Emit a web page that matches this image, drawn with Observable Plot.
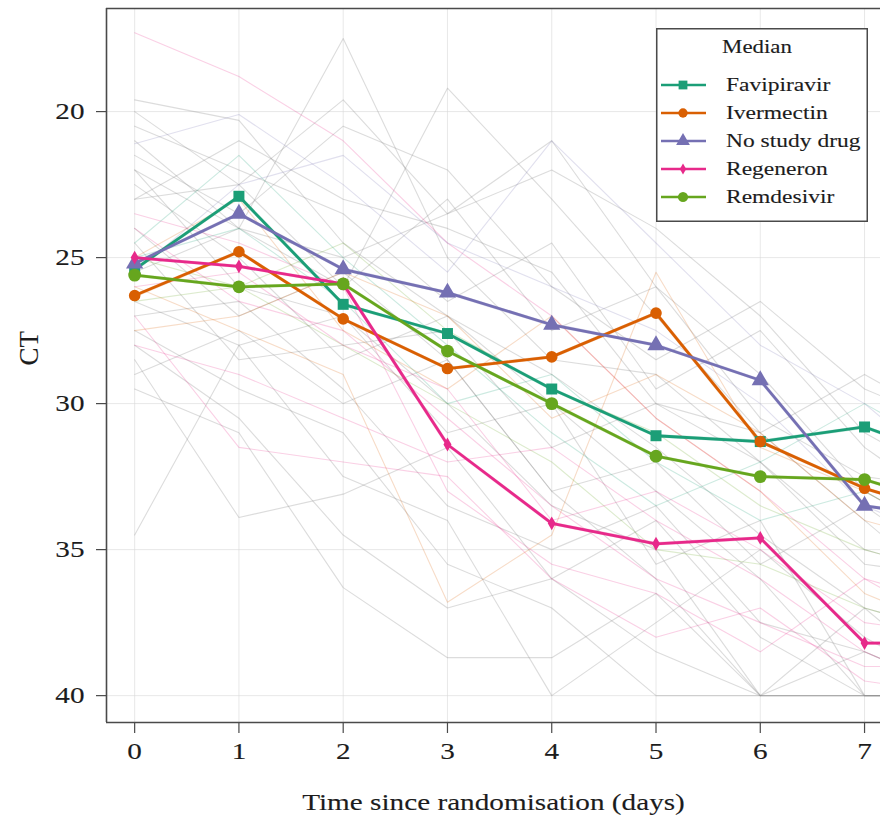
<!DOCTYPE html>
<html><head><meta charset="utf-8">
<script src="https://cdn.jsdelivr.net/npm/d3@7"></script>
<script src="https://cdn.jsdelivr.net/npm/@observablehq/plot@0.6"></script>
<style>
body{margin:0;background:#fff;overflow:hidden}
#wrap{position:relative;width:880px;height:818px}
#legend{position:absolute;left:656px;top:28px}
svg text{stroke:currentColor;stroke-width:0.12px}
</style></head><body><div id="wrap"></div>
<script>
// ---- data ----
const days = [0, 1, 2, 3, 4, 5, 6, 7, 8];
const xTicks = [0, 1, 2, 3, 4, 5, 6, 7];
const yTicks = [20, 25, 30, 35, 40];
const treatments = ["Favipiravir", "Ivermectin", "No study drug", "Regeneron", "Remdesivir"];
const colors = ["#1b9e77", "#d95f02", "#7570b3", "#e7298a", "#66a61e"];
const symbols = ["square", "circle", "triangle", "diamond", "circle"];
const symbolR = [6.2, 5.8, 6.4, 4.2, 6.4];

// medians per day (0..8)
const favipiravir = [25.4, 22.9, 26.6, 27.6, 29.5, 31.1, 31.3, 30.8, 32.1];
const ivermectin  = [26.3, 24.8, 27.1, 28.8, 28.4, 26.9, 31.3, 32.9, 34.0];
const noStudyDrug = [25.2, 23.5, 25.4, 26.2, 27.3, 28.0, 29.2, 33.5, 34.0];
const regeneron   = [25.0, 25.3, 25.9, 31.4, 34.1, 34.8, 34.6, 38.2, 38.2];
const remdesivir  = [25.6, 26.0, 25.9, 28.2, 30.0, 31.8, 32.5, 32.6, 33.7];
const medians = [favipiravir, ivermectin, noStudyDrug, regeneron, remdesivir];

// individual patient trajectories (days 0..8), group = arm or "grey"
const patientGroups = [
  "Regeneron","grey","grey","grey","grey","No study drug","Regeneron","Regeneron","grey","grey",
  "grey","Ivermectin","Remdesivir","Favipiravir","grey","grey","Regeneron","grey","grey","Ivermectin",
  "grey","Regeneron","grey","Remdesivir","grey","grey","Favipiravir","grey","Regeneron","grey",
  "grey","grey","Ivermectin","grey","No study drug","grey"
];
const patientValues = [
  [17.3, 18.8, 21.0, 24.5, 27.0, 30.5, 33.0, 36.0, 38.0],
  [22.0, 24.0, 17.5, 25.0, 28.5, 29.0, 32.0, 35.0, 36.0],
  [19.6, 20.3, 24.5, 27.0, 30.0, 33.0, 36.0, 40.0, 40.0],
  [23.0, 22.5, 19.6, 23.5, 21.0, 26.0, 29.0, 33.0, 35.0],
  [25.5, 24.0, 26.0, 19.2, 23.0, 27.0, 31.0, 34.0, 37.0],
  [21.1, 20.1, 22.5, 25.5, 21.0, 24.5, 28.0, 30.0, 33.0],
  [24.0, 26.5, 27.5, 30.5, 33.5, 36.0, 37.5, 39.0, 39.0],
  [27.0, 31.5, 32.0, 32.5, 36.0, 38.0, 37.0, 39.5, 40.0],
  [34.5, 28.0, 27.0, 30.0, 33.5, 35.0, 40.0, 40.0, 40.0],
  [28.5, 33.9, 33.1, 31.5, 36.0, 34.0, 38.0, 40.0, 40.0],
  [29.5, 31.0, 36.3, 38.7, 38.7, 36.5, 40.0, 40.0, 40.0],
  [26.0, 27.5, 29.0, 36.8, 34.5, 25.5, 31.5, 33.0, 35.0],
  [25.0, 26.0, 28.0, 30.0, 32.0, 35.0, 35.5, 37.0, 38.0],
  [24.5, 21.5, 25.0, 28.0, 31.0, 33.5, 32.0, 30.0, 32.0],
  [20.5, 22.0, 23.5, 26.5, 24.5, 29.5, 27.5, 31.5, 34.0],
  [22.5, 25.0, 28.5, 27.0, 29.0, 31.5, 34.5, 37.0, 38.0],
  [23.5, 24.5, 26.0, 33.0, 35.5, 36.5, 38.5, 36.0, 37.0],
  [26.5, 28.0, 32.5, 34.0, 40.0, 37.5, 35.0, 38.0, 40.0],
  [27.5, 29.5, 31.0, 35.5, 37.0, 40.0, 40.0, 38.5, 40.0],
  [25.0, 23.0, 27.5, 29.5, 27.0, 30.5, 33.0, 36.5, 38.0],
  [21.5, 23.5, 20.5, 22.0, 26.0, 28.5, 26.5, 29.5, 31.0],
  [28.0, 29.0, 30.5, 32.0, 31.5, 34.0, 36.0, 38.5, 40.0],
  [24.0, 27.0, 25.5, 28.5, 33.0, 32.0, 35.5, 33.5, 36.0],
  [26.5, 26.0, 24.5, 27.5, 29.5, 31.0, 33.5, 35.0, 36.0],
  [23.0, 21.0, 23.0, 24.0, 25.5, 30.0, 31.0, 29.0, 31.0],
  [29.0, 27.5, 30.0, 28.5, 33.0, 36.0, 40.0, 40.0, 40.0],
  [25.0, 24.0, 26.5, 30.0, 29.0, 32.0, 34.0, 33.0, 35.0],
  [20.0, 22.5, 26.0, 23.0, 27.5, 26.0, 30.5, 32.5, 33.0],
  [26.0, 25.5, 28.0, 29.5, 34.0, 33.0, 35.0, 37.5, 38.0],
  [22.0, 26.0, 27.0, 31.0, 30.0, 35.5, 34.0, 40.0, 40.0],
  [27.0, 26.5, 29.5, 33.5, 35.0, 33.5, 37.5, 38.5, 40.0],
  [24.5, 28.5, 28.0, 27.5, 31.5, 30.0, 32.0, 35.5, 36.0],
  [27.5, 27.0, 25.5, 27.0, 30.5, 29.0, 31.0, 34.0, 35.0],
  [21.0, 24.0, 25.0, 23.5, 22.0, 24.0, 27.0, 31.0, 33.0],
  [25.5, 22.5, 21.5, 24.5, 26.0, 27.5, 30.0, 33.5, 35.0],
  [28.0, 30.5, 34.5, 37.0, 36.0, 38.5, 40.0, 37.0, 40.0]
];

// ---- tables ----
const medianRows = treatments.flatMap((t, i) => days.map((d, j) => ({treatment: t, day: d, ct: medians[i][j]})));
const bgRows = patientValues.flatMap((vals, i) => days.map((d, j) => ({id: i, group: patientGroups[i], day: d, ct: vals[j]})));
const greyRows = bgRows.filter(r => r.group === "grey");
const colRows = bgRows.filter(r => r.group !== "grey");

const xDom = [-0.27, 7.153];
const yDom = [16.47, 40.92];
const frameColor = "#4a4a4a";

const marks = [
  Plot.gridX(xTicks, {stroke: "#d8d8d8", strokeOpacity: 0.6, strokeWidth: 1}),
  Plot.gridY(yTicks, {stroke: "#d8d8d8", strokeOpacity: 0.6, strokeWidth: 1}),
  Plot.line(greyRows, {x: "day", y: "ct", z: "id", stroke: "#8c8c8c", strokeOpacity: 0.3, strokeWidth: 1.1, clip: true}),
  Plot.line(colRows, {x: "day", y: "ct", z: "id", stroke: "group", strokeOpacity: 0.22, strokeWidth: 1.1, clip: true}),
  Plot.line(medianRows, {x: "day", y: "ct", z: "treatment", stroke: "treatment", strokeWidth: 3.4, strokeOpacity: 0.25, clip: true}),
  Plot.line(medianRows, {x: "day", y: "ct", z: "treatment", stroke: "treatment", strokeWidth: 2.8, clip: true})
];
treatments.forEach((t, i) => {
  marks.push(Plot.dot(medianRows.filter(r => r.treatment === t && r.day <= 7),
    {x: "day", y: "ct", fill: "treatment", symbol: "treatment", r: symbolR[i], clip: true}));
});
marks.push(
  Plot.axisX(xTicks, {tickSize: 11, tickPadding: 9, stroke: frameColor, strokeWidth: 1.2,
    label: "Time since randomisation (days)", labelAnchor: "center", labelOffset: 87, labelArrow: "none"}),
  Plot.axisY(yTicks, {tickSize: 10, tickPadding: 12, stroke: frameColor, strokeWidth: 1.2, label: null}),
  Plot.text(["CT"], {frameAnchor: "left", dx: -77, text: d => d, rotate: -90, fontSize: 27, lineAnchor: "middle"}),
  Plot.ruleX([xDom[0]], {stroke: frameColor, strokeWidth: 1.6}),
  Plot.ruleY([yDom[0]], {stroke: frameColor, strokeWidth: 1.6}),
  Plot.ruleY([yDom[1]], {stroke: frameColor, strokeWidth: 1.6})
);

const chart = Plot.plot({
  width: 880, height: 818,
  marginLeft: 106, marginTop: 8, marginBottom: 96, marginRight: 0,
  style: {fontFamily: "'Liberation Serif', 'Times New Roman', serif", fontSize: "23px", color: "#1c1c1c", background: "#fff"},
  x: {domain: xDom},
  y: {domain: yDom, reverse: true},
  color: {domain: treatments, range: colors},
  symbol: {domain: treatments, range: symbols},
  marks
});
const wrap = document.getElementById("wrap");
wrap.appendChild(chart);

// ---- legend ----
const lw = 212, lh = 194;
const legend = d3.create("svg").attr("id", "legend").attr("width", lw).attr("height", lh)
  .style("font-family", "'Liberation Serif', 'Times New Roman', serif").style("color", "#1c1c1c");
legend.append("rect").attr("x", 0.75).attr("y", 0.75).attr("width", lw - 1.5).attr("height", lh - 1.5)
  .attr("fill", "#fff").attr("stroke", frameColor).attr("stroke-width", 1.5);
legend.append("text").attr("x", 101).attr("y", 25).attr("text-anchor", "middle")
  .attr("font-size", 18).attr("fill", "currentColor").text("Median");
const symMap = {square: d3.symbolSquare, circle: d3.symbolCircle, triangle: d3.symbolTriangle, diamond: d3.symbolDiamond};
treatments.forEach((t, i) => {
  const cy = 57 + i * 28;
  const g = legend.append("g");
  g.append("line").attr("x1", 5).attr("x2", 50).attr("y1", cy).attr("y2", cy)
    .attr("stroke", colors[i]).attr("stroke-width", 2.6);
  const r = symbolR[i] * 0.8;
  g.append("path").attr("transform", `translate(27,${cy})`)
    .attr("d", d3.symbol(symMap[symbols[i]], Math.PI * r * r)()).attr("fill", colors[i]);
  g.append("text").attr("x", 70).attr("y", cy).attr("dy", "0.35em")
    .attr("font-size", 18.5).attr("fill", "currentColor").text(t);
});
wrap.appendChild(legend.node());

// horizontal stretch of text to match the reference's wide glyphs
const stretch = 1.27;
document.querySelectorAll("svg text").forEach(el => {
  if (el.textContent === "CT") return;
  const targets = el.querySelectorAll("tspan").length ? el.querySelectorAll("tspan") : [el];
  targets.forEach(tg => {
    const len = tg.getComputedTextLength();
    if (len > 0) {
      tg.setAttribute("textLength", (len * stretch).toFixed(1));
      tg.setAttribute("lengthAdjust", "spacingAndGlyphs");
    }
  });
});
</script></body></html>
